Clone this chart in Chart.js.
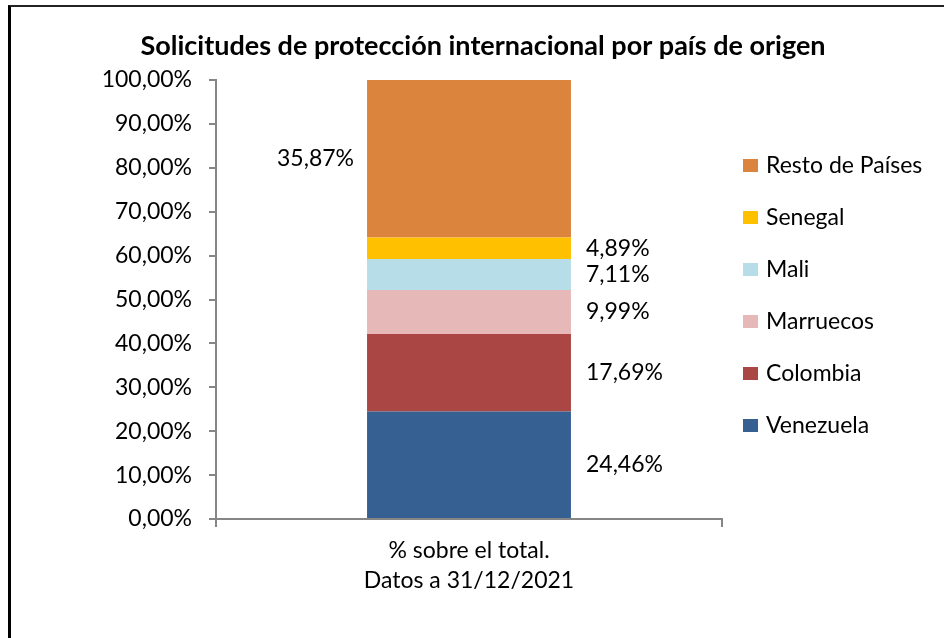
<!DOCTYPE html>
<html>
<head>
<meta charset="utf-8">
<script src="https://cdn.jsdelivr.net/npm/chart.js@4"></script>
<style>
  html, body { margin: 0; padding: 0; background: #fff; }
  #wrap { position: relative; width: 944px; height: 638px; }
  #frame {
    position: absolute; left: 8px; top: 5px; width: 960px; height: 660px;
    border-left: 3px solid #000; border-top: 2px solid #222; pointer-events: none;
  }
</style>
</head>
<body>
<div id="wrap">
  <canvas id="chart" width="944" height="638"></canvas>
  <div id="frame"></div>
</div>
<script>
const chartTitle = 'Solicitudes de protección internacional por país de origen';
const categories = [['% sobre el total.', 'Datos a 31/12/2021']];
const countries = ['Venezuela', 'Colombia', 'Marruecos', 'Mali', 'Senegal', 'Resto de Países'];
const shares = [24.46, 17.69, 9.99, 7.11, 4.89, 35.87];
const colors = ['#376092', '#AA4643', '#E6B9B8', '#B7DEE8', '#FFC000', '#DB843D'];
const yTicks = [0, 10, 20, 30, 40, 50, 60, 70, 80, 90, 100];

const FONT = 'Lato, "DejaVu Sans", sans-serif';

function fmtPct(v){
  return v.toFixed(2).replace('.', ',') + '%';
}

const extrasPlugin = {
  id: 'extras',
  afterDraw(chart){
    const ctx = chart.ctx;
    const area = chart.chartArea;
    ctx.save();

    // title
    ctx.fillStyle = '#000';
    ctx.font = 'bold 27px ' + FONT;
    ctx.textAlign = 'center';
    ctx.textBaseline = 'middle';
    ctx.fillText(chartTitle, 483, 46);

    // value labels
    ctx.font = '23px ' + FONT;
    chart.data.datasets.forEach((ds, i) => {
      const bar = chart.getDatasetMeta(i).data[0];
      const cy = (bar.y + bar.base) / 2;
      const left = bar.x - bar.width / 2;
      const right = bar.x + bar.width / 2;
      if(i === chart.data.datasets.length - 1){
        ctx.textAlign = 'right';
        ctx.fillText(fmtPct(ds.data[0]), left - 13, cy);
      }else{
        ctx.textAlign = 'left';
        ctx.fillText(fmtPct(ds.data[0]), right + 15, cy);
      }
    });

    // legend, top item = last dataset
    ctx.font = '23px ' + FONT;
    ctx.textAlign = 'left';
    const startY = area.top + 86;
    const n = chart.data.datasets.length;
    for(let k = 0; k < n; k++){
      const ds = chart.data.datasets[n - 1 - k];
      const y = startY + k * 52;
      ctx.fillStyle = ds.backgroundColor;
      ctx.fillRect(743, y - 7, 15, 13);
      ctx.fillStyle = '#000';
      ctx.fillText(ds.label, 766, y);
    }
    ctx.restore();
  }
};

new Chart(document.getElementById('chart'), {
  type: 'bar',
  data: {
    labels: categories,
    datasets: countries.map((name, i) => ({
      label: name,
      data: [shares[i]],
      backgroundColor: colors[i],
      borderWidth: 0,
      categoryPercentage: 1,
      barPercentage: 0.403
    }))
  },
  options: {
    responsive: false,
    animation: false,
    layout: {
      padding: { top: 80, right: 222, bottom: 0, left: 0 }
    },
    plugins: {
      legend: { display: false },
      title: { display: false },
      tooltip: { enabled: false }
    },
    scales: {
      x: {
        stacked: true,
        afterFit(scale){ scale.height = 119; },
        grid: {
          drawOnChartArea: false,
          tickLength: 8,
          color: '#868686',
          lineWidth: 2
        },
        border: { color: '#868686', width: 2 },
        ticks: {
          color: '#000',
          padding: 9,
          font: { family: FONT, size: 23, lineHeight: 1.3 }
        }
      },
      y: {
        stacked: true,
        min: 0,
        max: 100,
        afterFit(scale){ scale.width = 216; },
        afterBuildTicks(scale){
          scale.ticks = yTicks.map(v => ({ value: v }));
        },
        grid: {
          drawOnChartArea: false,
          tickLength: 7,
          color: '#868686',
          lineWidth: 2
        },
        border: { color: '#868686', width: 2 },
        ticks: {
          color: '#000',
          padding: 17,
          font: { family: FONT, size: 23 },
          callback: v => fmtPct(v)
        }
      }
    }
  },
  plugins: [extrasPlugin]
});
</script>
</body>
</html>
